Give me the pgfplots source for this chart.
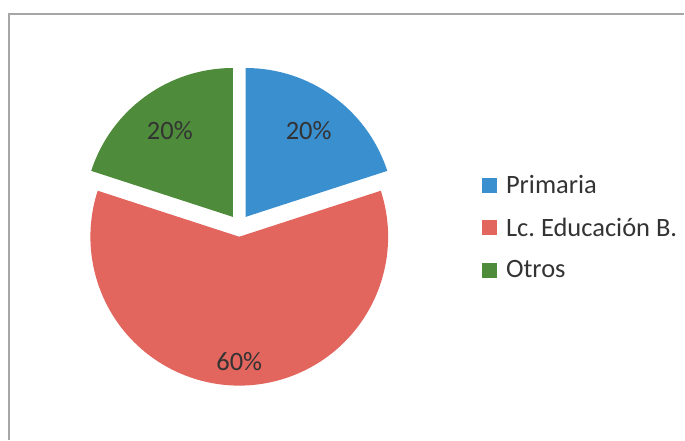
\documentclass[border=0pt]{standalone}
\usepackage{fontspec}
\setmainfont{Carlito}
\usepackage{pgfplots}
\usepackage{pgfplotstable}
\pgfplotsset{compat=1.18}

\definecolor{cPrim}{HTML}{3A8FCF}
\definecolor{cLic}{HTML}{E2655E}
\definecolor{cOtr}{HTML}{4E8B3A}
\definecolor{txt}{HTML}{333333}

% share in percent, slice colour, label distance (fraction of radius)
\pgfplotstableread{
value color labr
20 cPrim 0.72
60 cLic  0.84
20 cOtr  0.72
}\piedata

\newcommand\bigf{\fontsize{26.5}{31}\selectfont}

\begin{document}
\begin{tikzpicture}
% pie geometry in picture units (1 unit = 1pt)
\def\cx{239.5}\def\cy{214}\def\rad{149}\def\expl{11}
\def\curang{90}
\pgfplotsforeachungrouped \i in {0,1,2}{%
  \pgfplotstablegetelem{\i}{value}\of\piedata \let\v\pgfplotsretval
  \pgfplotstablegetelem{\i}{color}\of\piedata
  \expandafter\xdef\csname pcol\i\endcsname{\pgfplotsretval}%
  \pgfplotstablegetelem{\i}{labr}\of\piedata \let\lr\pgfplotsretval
  \pgfmathsetmacro\sa{\curang}%
  \pgfmathsetmacro\ea{\curang-3.6*\v}%
  \pgfmathsetmacro\ma{(\sa+\ea)/2}%
  \pgfmathsetmacro\vx{\cx+\expl*cos(\ma)}%
  \pgfmathsetmacro\vy{\cy+\expl*sin(\ma)}%
  \pgfmathsetmacro\lx{\vx+\lr*\rad*cos(\ma)}%
  \pgfmathsetmacro\ly{\vy+\lr*\rad*sin(\ma)}%
  \pgfmathtruncatemacro\pc{\v}%
  \expandafter\xdef\csname psa\i\endcsname{\sa}%
  \expandafter\xdef\csname pea\i\endcsname{\ea}%
  \expandafter\xdef\csname pvx\i\endcsname{\vx}%
  \expandafter\xdef\csname pvy\i\endcsname{\vy}%
  \expandafter\xdef\csname plx\i\endcsname{\lx}%
  \expandafter\xdef\csname ply\i\endcsname{\ly}%
  \expandafter\xdef\csname ppc\i\endcsname{\pc}%
  \xdef\curang{\ea}%
}
\begin{axis}[
    x=1pt, y=1pt,
    xmin=0, xmax=685,
    ymin=0, ymax=440,
    hide axis,
    clip=false,
    legend style={
        draw=none, fill=none,
        at={(axis cs:482,267)}, anchor=north west,
        font=\bigf, text=txt,
        row sep=19pt, inner sep=0pt,
        /tikz/every odd column/.append style={column sep=8pt},
    },
    legend cell align=left,
]
\addlegendimage{legend image code/.code={\fill[cPrim] (0pt,-7pt) rectangle (14pt,7pt);}}
\addlegendentry{Primaria}
\addlegendimage{legend image code/.code={\fill[cLic] (0pt,-7pt) rectangle (14pt,7pt);}}
\addlegendentry{Lc.\ Educación B.}
\addlegendimage{legend image code/.code={\fill[cOtr] (0pt,-7pt) rectangle (14pt,7pt);}}
\addlegendentry{Otros}

\path (axis cs:0,0) rectangle (axis cs:685,440);
\draw[line width=1.5pt, color=black!35] (axis cs:9,0) -- (axis cs:9,426) -- (axis cs:685,426);

\pgfplotsinvokeforeach{0,1,2}{
  \fill[\csname pcol#1\endcsname]
    (axis cs:\csname pvx#1\endcsname,\csname pvy#1\endcsname)
    -- ++(\csname psa#1\endcsname:\rad pt)
    arc[start angle=\csname psa#1\endcsname, end angle=\csname pea#1\endcsname, radius=\rad pt]
    -- cycle;
  \node[font=\bigf, text=txt] at (axis cs:\csname plx#1\endcsname,\csname ply#1\endcsname)
    {\csname ppc#1\endcsname\%};
}
\end{axis}
\end{tikzpicture}
\end{document}
